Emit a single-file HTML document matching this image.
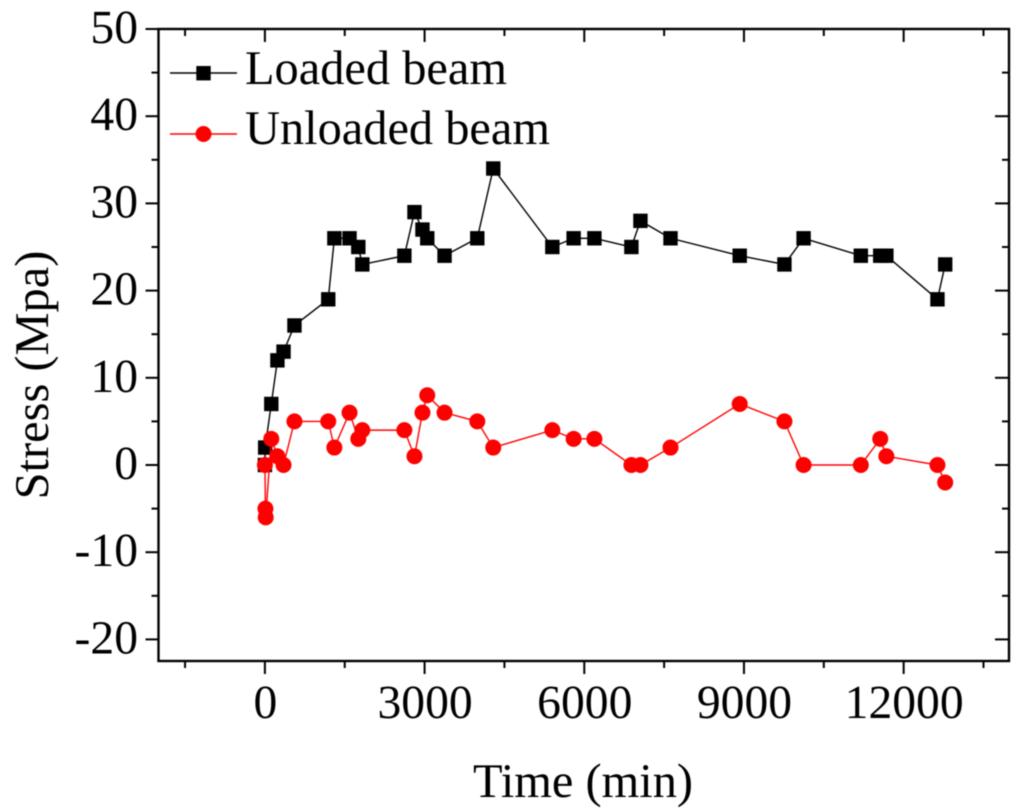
<!DOCTYPE html>
<html lang="en">
<head>
<meta charset="utf-8">
<title>Stress vs Time</title>
<style>
  html, body { margin: 0; padding: 0; background: #fff; width: 1024px; height: 810px; overflow: hidden; }
  svg { display: block; filter: blur(0.45px); }
  text { font-family: "Liberation Serif", serif; fill: #000; text-rendering: geometricPrecision; }
</style>
</head>
<body>
<svg id="chart" xmlns="http://www.w3.org/2000/svg" width="1024" height="810" viewBox="0 0 1024 810"></svg>
<script>
const xTickLabels = [0, 3000, 6000, 9000, 12000];
const xMinorTicks = [-1500, 1500, 4500, 7500, 10500, 13500];
const yTickLabels = [-20, -10, 0, 10, 20, 30, 40, 50];
const yMinorTicks = [-15, -5, 5, 15, 25, 35, 45];

const loadedTimes = [0, 5, 120, 235, 350, 555, 1190, 1305, 1590, 1755, 1830, 2620, 2810, 2960, 3050, 3375, 3990, 4290, 5400, 5800, 6190, 6885, 7055, 7620, 8920, 9760, 10120, 11195, 11560, 11675, 12635, 12780];
const loadedStress = [0, 2, 7, 12, 13, 16, 19, 26, 26, 25, 23, 24, 29, 27, 26, 24, 26, 34, 25, 26, 26, 25, 28, 26, 24, 23, 26, 24, 24, 24, 19, 23];

const unloadedTimes = [0, 10, 15, 120, 235, 350, 555, 1190, 1305, 1590, 1755, 1830, 2620, 2810, 2960, 3050, 3375, 3990, 4290, 5400, 5800, 6190, 6885, 7055, 7620, 8920, 9760, 10120, 11195, 11560, 11675, 12635, 12780];
const unloadedStress = [0, -5, -6, 3, 1, 0, 5, 5, 2, 6, 3, 4, 4, 1, 6, 8, 6, 5, 2, 4, 3, 3, 0, 0, 2, 7, 5, 0, 0, 3, 1, 0, -2];

const plot = { left: 158.5, right: 1009, top: 29, bottom: 661 };
const xAxis = v => 264.9 + v * 0.05323;
const yAxis = v => 465 - v * 8.72;
const svg = document.getElementById('chart');
const NS = 'http://www.w3.org/2000/svg';

function make(tag, attrs, text) {
  const el = document.createElementNS(NS, tag);
  for (const k in attrs) el.setAttribute(k, attrs[k]);
  if (text !== undefined) el.textContent = text;
  svg.appendChild(el);
  return el;
}
function tickLine(x1, y1, x2, y2) {
  return make('line', { x1, y1, x2, y2, stroke: '#000', 'stroke-width': 2 });
}
function polyPoints(xs, ys) {
  return xs.map((t, i) => xAxis(t) + ',' + yAxis(ys[i])).join(' ');
}

let el;
el = make('rect', { x: plot.left, y: plot.top, width: plot.right - plot.left, height: plot.bottom - plot.top, fill: 'none', stroke: '#000', 'stroke-width': 2.4 });



xTickLabels.forEach(v => {
  const x = xAxis(v);
  el = tickLine(x, plot.bottom, x, plot.bottom + 13);
  
  
  el = tickLine(x, plot.top, x, plot.top + 13);
  
  
  el = make('text', { x: x + 0.5, y: 718, 'font-size': 47.6, 'text-anchor': 'middle' }, String(v));
  
  
});
xMinorTicks.forEach(v => {
  const x = xAxis(v);
  el = tickLine(x, plot.bottom, x, plot.bottom + 7);
  
  
  el = tickLine(x, plot.top, x, plot.top + 7);
  
  
});
yTickLabels.forEach(v => {
  const y = yAxis(v);
  el = tickLine(plot.left, y, plot.left - 13, y);
  
  
  el = tickLine(plot.right, y, plot.right - 14, y);
  
  
  el = make('text', { x: 138, y: y + 14, 'font-size': 47.6, 'text-anchor': 'end' }, String(v));
  
  
});
yMinorTicks.forEach(v => {
  const y = yAxis(v);
  el = tickLine(plot.left, y, plot.left - 7, y);
  
  
  el = tickLine(plot.right, y, plot.right - 7, y);
  
  
});

el = make('polyline', { points: polyPoints(loadedTimes, loadedStress), fill: 'none', stroke: '#000', 'stroke-width': 1.4 });


loadedTimes.forEach((t, i) => {
  const m = make('rect', { x: xAxis(t) - 7.2, y: yAxis(loadedStress[i]) - 7.2, width: 14.4, height: 14.4, fill: '#000' });
  
  
});

el = make('polyline', { points: polyPoints(unloadedTimes, unloadedStress), fill: 'none', stroke: '#f00', 'stroke-width': 1.4 });


unloadedTimes.forEach((t, i) => {
  const m = make('circle', { cx: xAxis(t), cy: yAxis(unloadedStress[i]), r: 8, fill: '#f00' });
  
  
});

el = make('line', { x1: 170, y1: 73, x2: 237, y2: 73, stroke: '#000', 'stroke-width': 1.4 });


el = make('rect', { x: 196.3, y: 66, width: 14.4, height: 14.4, fill: '#000' });


el = make('text', { x: 245, y: 84, 'font-size': 48.4 }, 'Loaded beam');



el = make('line', { x1: 170, y1: 134, x2: 237, y2: 134, stroke: '#f00', 'stroke-width': 1.4 });


el = make('circle', { cx: 203.5, cy: 134, r: 8, fill: '#f00' });


el = make('text', { x: 245, y: 144, 'font-size': 48.4 }, 'Unloaded beam');



el = make('text', { x: 583, y: 797, 'font-size': 48.4, 'text-anchor': 'middle' }, 'Time (min)');


el = make('text', { x: 48, y: 375, 'font-size': 48.4, 'text-anchor': 'middle', transform: 'rotate(-90 48 375)' }, 'Stress (Mpa)');


</script>
</body>
</html>
